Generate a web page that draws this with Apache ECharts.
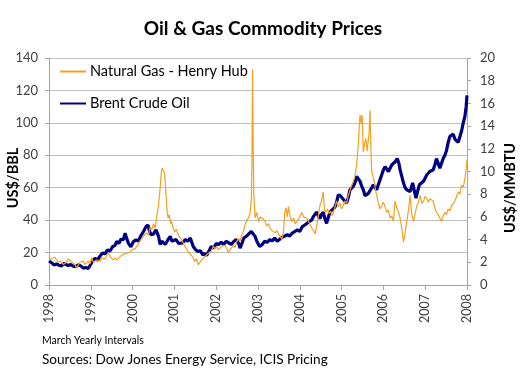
<!DOCTYPE html>
<html><head><meta charset="utf-8">
<script src="https://cdn.jsdelivr.net/npm/echarts@6/dist/echarts.min.js"></script>
<style>html,body{margin:0;padding:0;background:#fff}#c{width:526px;height:370px}</style>
</head><body><div id="c"></div>
<script>
const xTickLabels = ['1998','1999','2000','2001','2002','2003','2004','2005','2006','2007','2008'];
const oilYears = [1998.00,1998.06,1998.12,1998.18,1998.24,1998.30,1998.35,1998.40,1998.46,1998.52,1998.58,1998.64,1998.70,1998.76,1998.82,1998.88,1998.94,
1999.00,1999.05,1999.10,1999.16,1999.22,1999.28,1999.34,1999.40,1999.46,1999.52,1999.58,1999.62,1999.67,1999.72,1999.78,1999.82,1999.86,1999.90,1999.96,
2000.02,2000.08,2000.14,2000.20,2000.26,2000.32,2000.37,2000.40,2000.44,2000.50,2000.56,2000.62,2000.66,2000.70,2000.74,2000.78,2000.82,2000.86,2000.90,2000.94,2000.98,
2001.04,2001.10,2001.14,2001.20,2001.26,2001.32,2001.38,2001.41,2001.45,2001.50,2001.56,2001.62,2001.68,2001.73,2001.77,2001.82,2001.88,2001.94,
2002.00,2002.06,2002.12,2002.18,2002.24,2002.30,2002.36,2002.42,2002.48,2002.54,2002.57,2002.62,2002.66,2002.72,2002.78,2002.84,2002.88,2002.93,2002.98,
2003.04,2003.10,2003.16,2003.22,2003.28,2003.34,2003.40,2003.46,2003.52,2003.58,2003.64,2003.70,2003.76,2003.82,2003.88,2003.94,
2004.00,2004.06,2004.12,2004.16,2004.22,2004.28,2004.32,2004.36,2004.40,2004.44,2004.48,2004.52,2004.56,2004.60,2004.64,2004.68,2004.72,2004.78,2004.84,2004.88,2004.92,2004.97,
2005.02,2005.07,2005.12,2005.16,2005.20,2005.24,2005.28,2005.32,2005.36,2005.40,2005.44,2005.48,2005.52,2005.56,2005.60,2005.64,2005.68,2005.72,2005.76,2005.80,2005.84,2005.88,2005.92,2005.96,
2006.00,2006.04,2006.08,2006.12,2006.16,2006.20,2006.24,2006.28,2006.33,2006.37,2006.40,2006.44,2006.48,2006.52,2006.56,2006.60,2006.64,2006.68,2006.70,2006.74,2006.78,2006.82,2006.86,2006.90,2006.96,
2007.00,2007.04,2007.08,2007.11,2007.15,2007.19,2007.23,2007.27,2007.31,2007.35,2007.39,2007.43,2007.47,2007.51,2007.55,2007.59,2007.63,2007.67,2007.71,2007.75,2007.79,2007.83,2007.87,2007.91,2007.95,2007.98,2008.00];
const oilPrices = [14.8,13.8,12.4,13.0,12.2,11.7,13.4,12.6,12.0,12.6,11.6,11.3,12.4,11.8,10.4,10.8,10.2,
12.8,15.0,16.4,15.3,17.8,19.8,19.2,21.6,21.0,23.6,24.4,27.0,25.6,28.2,28.0,31.9,28.6,25.7,23.6,
26.8,27.8,27.2,30.5,33.0,36.0,37.0,33.5,31.0,31.5,34.0,30.0,25.0,27.0,28.0,25.0,26.2,28.5,30.0,27.0,27.5,
28.0,25.6,24.7,26.0,28.0,27.0,29.0,30.0,23.7,22.0,20.6,21.2,18.5,19.5,18.2,20.6,23.7,22.8,
25.6,25.0,26.4,25.0,27.0,26.0,25.0,26.8,28.0,25.5,22.7,26.0,29.0,30.0,31.5,33.0,34.0,30.0,26.5,
23.7,25.0,27.0,26.3,28.0,27.2,29.0,27.0,28.2,29.5,30.2,31.0,30.2,32.0,33.0,34.0,
33.0,36.0,37.0,38.0,39.0,40.0,42.0,43.0,45.0,43.0,41.0,43.5,45.0,41.0,38.0,41.5,45.0,46.5,48.0,51.0,55.6,55.0,
53.5,52.0,50.5,54.0,58.7,59.5,60.8,63.0,67.0,65.5,64.0,61.0,58.7,55.0,54.6,56.5,57.7,60.0,61.8,60.0,58.7,62.0,65.0,68.0,
71.0,73.0,72.0,70.0,72.0,74.0,75.0,76.0,78.0,75.0,71.0,67.0,63.0,60.0,58.7,58.0,57.7,61.0,63.0,58.0,53.5,58.0,61.8,62.0,64.0,
66.0,68.0,67.5,70.0,69.0,71.0,74.0,78.0,75.0,72.0,75.0,78.0,80.0,83.0,88.0,91.7,92.0,93.0,90.0,90.6,88.0,88.6,95.0,100.0,104.0,110.0,117.0];
const gasYears = [1998.00,1998.04,1998.08,1998.14,1998.18,1998.22,1998.26,1998.30,1998.34,1998.38,1998.42,1998.46,1998.50,1998.54,1998.58,1998.62,1998.66,1998.70,1998.74,1998.78,1998.82,1998.86,1998.90,1998.94,1998.98,
1999.02,1999.06,1999.10,1999.14,1999.18,1999.22,1999.26,1999.30,1999.34,1999.38,1999.42,1999.46,1999.50,1999.54,1999.58,1999.62,1999.66,1999.70,1999.74,1999.78,1999.82,1999.86,1999.90,1999.94,1999.98,
2000.02,2000.06,2000.10,2000.14,2000.18,2000.22,2000.26,2000.30,2000.34,2000.38,2000.42,2000.46,2000.50,2000.54,2000.58,2000.62,2000.66,2000.69,2000.71,2000.73,2000.75,2000.77,2000.79,2000.81,2000.83,2000.85,2000.88,2000.91,2000.93,2000.97,
2001.01,2001.05,2001.09,2001.13,2001.17,2001.21,2001.25,2001.29,2001.33,2001.37,2001.41,2001.45,2001.49,2001.53,2001.57,2001.61,2001.65,2001.69,2001.73,2001.77,2001.81,2001.85,2001.89,2001.93,2001.97,
2002.01,2002.05,2002.09,2002.13,2002.17,2002.21,2002.25,2002.29,2002.33,2002.37,2002.41,2002.45,2002.49,2002.53,2002.57,2002.61,2002.65,2002.69,2002.73,2002.77,2002.81,2002.84,2002.855,2002.87,2002.885,2002.90,2002.93,2002.97,
2003.01,2003.05,2003.09,2003.13,2003.17,2003.21,2003.25,2003.29,2003.33,2003.37,2003.41,2003.45,2003.49,2003.53,2003.57,2003.61,2003.64,2003.67,2003.70,2003.73,2003.77,2003.81,2003.85,2003.89,2003.93,2003.97,
2004.01,2004.05,2004.09,2004.13,2004.17,2004.21,2004.25,2004.29,2004.33,2004.37,2004.40,2004.44,2004.48,2004.52,2004.56,2004.59,2004.62,2004.66,2004.70,2004.74,2004.78,2004.82,2004.86,2004.88,2004.92,2004.96,
2005.00,2005.04,2005.08,2005.12,2005.16,2005.20,2005.24,2005.28,2005.32,2005.36,2005.38,2005.40,2005.42,2005.44,2005.47,2005.49,2005.52,2005.55,2005.58,2005.61,2005.64,2005.66,2005.68,2005.70,2005.72,2005.75,2005.78,2005.81,2005.84,2005.88,2005.92,2005.96,
2006.00,2006.04,2006.08,2006.12,2006.16,2006.20,2006.24,2006.26,2006.28,2006.32,2006.36,2006.40,2006.44,2006.46,2006.48,2006.52,2006.56,2006.60,2006.64,2006.68,2006.72,2006.76,2006.80,2006.84,2006.88,2006.92,2006.96,
2007.00,2007.04,2007.08,2007.11,2007.15,2007.19,2007.23,2007.27,2007.31,2007.35,2007.39,2007.43,2007.47,2007.51,2007.55,2007.59,2007.63,2007.67,2007.71,2007.75,2007.79,2007.83,2007.87,2007.91,2007.95,2007.98,2008.00];
const gasPrices = [2.2,2.1,2.35,2.45,2.2,2.0,1.9,2.1,1.8,1.75,2.0,2.3,2.4,2.0,2.1,1.8,1.5,1.75,2.0,1.9,2.1,1.8,1.9,2.1,1.85,
2.4,2.0,1.9,2.2,2.3,2.1,2.4,2.5,2.3,2.6,2.8,2.5,2.35,2.2,2.4,2.2,2.1,2.5,2.5,2.7,2.55,2.8,2.65,2.9,3.1,
3.0,3.2,3.4,3.6,3.9,4.0,4.3,4.2,4.6,4.4,5.1,4.9,5.4,5.0,6.1,7.0,8.6,10.0,10.3,10.4,10.0,9.7,8.5,7.4,6.3,5.9,6.2,5.4,5.6,5.0,
4.7,4.9,4.4,4.5,4.0,3.7,3.4,3.2,2.9,3.0,2.6,2.4,2.05,2.3,1.8,2.0,2.2,2.1,2.5,2.4,2.8,2.7,3.0,3.4,3.2,
3.4,3.1,3.2,3.4,3.3,3.5,3.2,2.9,3.1,3.3,3.5,3.3,3.8,4.1,3.9,4.4,4.7,5.3,5.7,5.9,6.3,7.5,10.6,19.0,12.0,8.0,5.9,6.4,
5.6,6.0,6.1,5.8,5.6,5.2,5.4,5.0,4.8,4.9,4.6,4.8,4.5,4.3,4.0,4.7,6.4,6.8,6.0,6.9,6.0,5.6,5.9,5.4,5.3,5.8,
6.1,6.4,6.0,6.1,5.9,5.6,5.5,5.0,4.8,4.5,4.4,6.0,7.0,7.4,8.2,6.6,6.4,6.7,6.3,6.5,6.1,6.6,7.1,7.4,6.9,7.2,
6.7,7.0,7.4,7.2,7.9,8.3,8.8,9.1,9.6,10.6,11.5,12.5,13.8,15.0,14.2,15.0,11.7,12.5,12.9,11.8,11.7,13.5,15.4,12.0,10.0,9.6,9.1,8.4,7.9,7.2,6.7,7.0,
7.3,6.9,6.4,6.6,5.9,6.1,5.6,6.6,7.4,6.8,6.4,5.9,5.0,4.4,3.8,4.6,5.6,6.6,7.9,6.2,5.6,6.3,7.0,7.3,7.9,7.2,7.4,
7.8,7.6,7.3,7.6,7.7,7.4,6.8,6.4,6.2,5.9,5.6,6.1,6.4,6.2,6.7,6.5,7.0,7.2,7.4,7.8,8.2,8.0,8.8,8.6,9.4,10.2,11.0];

const zip = (xs, ys) => xs.map((x, i) => [x, ys[i]]);
const FONT = 'Lato';
const labelColor = '#404040';
const axisColor = '#a6a6a6';

const chart = echarts.init(document.getElementById('c'));
chart.setOption({
  animation: false,
  backgroundColor: '#fff',
  textStyle: { fontFamily: FONT },
  title: {
    text: 'Oil & Gas Commodity Prices', left: 'center', top: 14,
    textStyle: { fontFamily: FONT, fontSize: 19, fontWeight: 'bold', color: '#000' }
  },
  legend: {
    orient: 'vertical', left: 54, top: 59, itemGap: 17, itemWidth: 26, itemHeight: 14,
    data: ['Natural Gas - Henry Hub', 'Brent Crude Oil'],
    itemStyle: { opacity: 0 },
    textStyle: { fontFamily: FONT, fontSize: 14.5, color: '#000', padding: [0, 0, 0, -1] }
  },
  grid: { left: 49, right: 59, top: 58, bottom: 85 },
  xAxis: {
    type: 'value', min: 1998, max: 2008, interval: 1,
    axisLine: { show: true, lineStyle: { color: axisColor } },
    axisTick: { show: true, length: 5, lineStyle: { color: axisColor } },
    splitLine: { show: false },
    axisLabel: {
      rotate: 90, margin: 9, color: labelColor, fontFamily: FONT, fontSize: 12.5,
      formatter: v => xTickLabels[Math.round(v - 1998)]
    }
  },
  yAxis: [
    {
      type: 'value', min: 0, max: 140, interval: 20, position: 'left',
      axisLine: { show: true, lineStyle: { color: axisColor } },
      axisTick: { show: true, length: 4, lineStyle: { color: axisColor } },
      splitLine: { show: true, lineStyle: { color: '#bfbfbf' } },
      axisLabel: { margin: 11, color: labelColor, fontFamily: FONT, fontSize: 13 }
    },
    {
      type: 'value', min: 0, max: 20, interval: 2, position: 'right',
      axisLine: { show: true, lineStyle: { color: axisColor } },
      axisTick: { show: true, length: 4, lineStyle: { color: axisColor } },
      splitLine: { show: false },
      axisLabel: { margin: 13, color: labelColor, fontFamily: FONT, fontSize: 13 }
    }
  ],
  series: [
    {
      name: 'Natural Gas - Henry Hub', type: 'line', yAxisIndex: 1, z: 3,
      data: zip(gasYears, gasPrices), showSymbol: false, symbol: 'none',
      lineStyle: { color: '#F5A020', width: 1.2 }, itemStyle: { color: '#F5A020' }
    },
    {
      name: 'Brent Crude Oil', type: 'line', yAxisIndex: 0, z: 2,
      data: zip(oilYears, oilPrices), showSymbol: false, symbol: 'none',
      lineStyle: { color: '#000080', width: 3.2 }, itemStyle: { color: '#000080' }
    }
  ],
  graphic: [
    { type: 'text', x: 13, y: 178, rotation: Math.PI / 2,
      style: { text: 'US$/BBL', fontFamily: FONT, fontSize: 14.5, fontWeight: 'bold', fill: '#000', align: 'center', verticalAlign: 'middle' } },
    { type: 'text', x: 510, y: 188, rotation: Math.PI / 2,
      style: { text: 'US$/MMBTU', fontFamily: FONT, fontSize: 14.5, fontWeight: 'bold', fill: '#000', align: 'center', verticalAlign: 'middle' } },
    { type: 'text', x: 42, y: 341,
      style: { text: 'March Yearly Intervals', fontFamily: FONT, fontSize: 10.5, fill: '#000', align: 'left', verticalAlign: 'middle' } },
    { type: 'text', x: 42, y: 360,
      style: { text: 'Sources: Dow Jones Energy Service, ICIS Pricing', fontFamily: FONT, fontSize: 13.6, fill: '#000', align: 'left', verticalAlign: 'middle' } }
  ]
});
</script></body></html>
